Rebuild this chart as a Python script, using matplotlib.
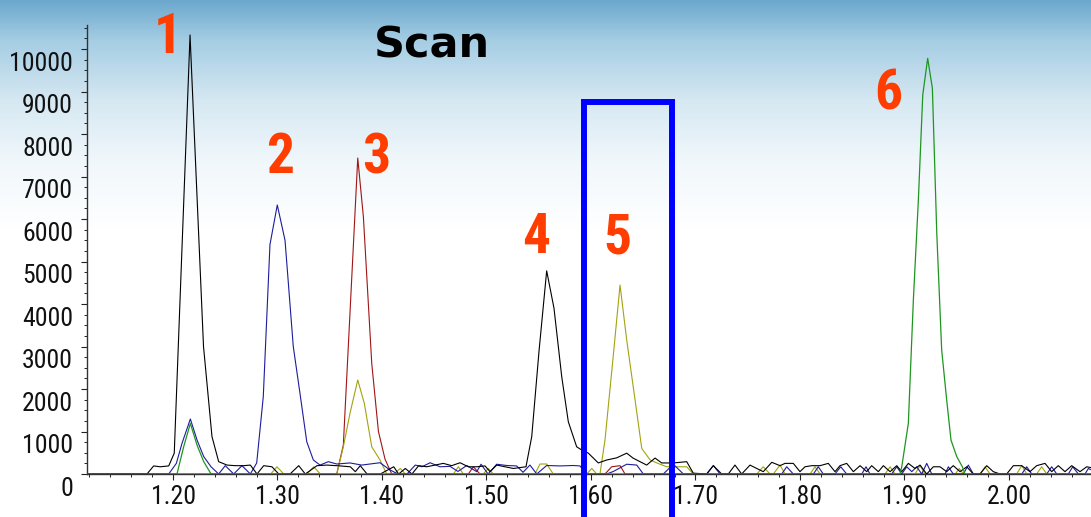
import numpy as np
import matplotlib
matplotlib.use("Agg")
import matplotlib.pyplot as plt
from matplotlib import font_manager
from matplotlib.font_manager import FontProperties
from matplotlib.transforms import ScaledTranslation
from matplotlib.ticker import MultipleLocator, FormatStrFormatter

# ---------------- chromatogram traces (retention time [min], intensity) ----------------
black_t = [1.1177, 1.1751, 1.1815, 1.1878, 1.1959, 1.2012, 1.2067, 1.2115, 1.2163, 1.2220,
           1.2292, 1.2373, 1.2437, 1.2517, 1.2596, 1.2677, 1.2740, 1.2804, 1.2868, 1.2947,
           1.3012, 1.3120, 1.3203, 1.3266, 1.3378, 1.3474, 1.3601, 1.3697, 1.3745, 1.3792,
           1.3857, 1.3984, 1.4112, 1.4160, 1.4223, 1.4287, 1.4351, 1.4428, 1.4507, 1.4587,
           1.4667, 1.4747, 1.4826, 1.4906, 1.4986, 1.5034, 1.5098, 1.5177, 1.5257, 1.5378,
           1.5433, 1.5503, 1.5576, 1.5646, 1.5720, 1.5783, 1.5863, 1.5911, 1.5975, 1.6070,
           1.6151, 1.6246, 1.6342, 1.6402, 1.6533, 1.6613, 1.6677, 1.6788, 1.6916, 1.6979,
           1.7107, 1.7171, 1.7251, 1.7314, 1.7378, 1.7442, 1.7522, 1.7586, 1.7649, 1.7730,
           1.7809, 1.7857, 1.7936, 1.8000, 1.8048, 1.8112, 1.8192, 1.8271, 1.8335, 1.8383,
           1.8447, 1.8511, 1.8575, 1.8639, 1.8686, 1.8750, 1.8798, 1.8862, 1.8926, 1.8974,
           1.9037, 1.9101, 1.9149, 1.9213, 1.9276, 1.9340, 1.9404, 1.9467, 1.9532, 1.9596,
           1.9659, 1.9723, 1.9787, 1.9850, 1.9914, 1.9978, 2.0042, 2.0122, 2.0201, 2.0265,
           2.0345, 2.0409, 2.0472, 2.0536, 2.0600, 2.0680, 2.0744, 2.0785]
black_i = [0, 0, 190, 170, 190, 490, 4060, 7200, 10330, 7070,
           3000, 880, 290, 210, 196, 196, 210, 0, 196, 170,
           0, 0, 196, 0, 196, 210, 190, 170, 55, 196,
           0, 0, 170, 0, 130, 0, 196, 170, 210, 250,
           196, 265, 170, 170, 190, 55, 210, 170, 130, 170,
           880, 2900, 4780, 3900, 2290, 1230, 640, 565, 490, 260,
           330, 380, 490, 375, 210, 375, 260, 260, 290, 20,
           0, 196, 0, 0, 210, 0, 210, 130, 55, 275,
           196, 250, 250, 55, 170, 196, 196, 250, 55, 196,
           250, 55, 196, 55, 196, 55, 196, 55, 196, 55,
           250, 130, 210, 0, 170, 170, 55, 196, 55, 170,
           0, 0, 196, 55, 0, 0, 196, 196, 55, 196,
           250, 55, 196, 55, 196, 55, 170, 150]

blue_t = [1.1177, 1.1959, 1.2032, 1.2086, 1.2166, 1.2230, 1.2294, 1.2364, 1.2437, 1.2500,
          1.2581, 1.2660, 1.2740, 1.2801, 1.2864, 1.2928, 1.2998, 1.3072, 1.3151, 1.3215,
          1.3280, 1.3343, 1.3407, 1.3486, 1.3567, 1.3694, 1.3806, 1.3885, 1.3981, 1.4077,
          1.4153, 1.4239, 1.4319, 1.4383, 1.4460, 1.4555, 1.4651, 1.4727, 1.4811, 1.4906,
          1.4948, 1.5015, 1.5098, 1.5194, 1.5289, 1.5350, 1.5416, 1.5481, 1.5576, 1.5704,
          1.5831, 1.5895, 1.5952, 1.6151, 1.6214, 1.6342, 1.6438, 1.6501, 1.6692, 1.6788,
          1.6884, 1.7107, 1.7171, 1.7235, 1.7825, 1.7873, 1.7936, 1.8128, 1.8175, 1.8223,
          1.8335, 1.8390, 1.8447, 1.8591, 1.8632, 1.8670, 1.8878, 1.8926, 1.8974, 1.9022,
          1.9070, 1.9117, 1.9165, 1.9213, 1.9261, 1.9389, 1.9420, 1.9467, 1.9563, 1.9611,
          1.9659, 2.0122, 2.0170, 2.0218, 2.0361, 2.0409, 2.0457, 2.0568, 2.0610, 2.0664,
          2.0728, 2.0760, 2.0785]
blue_i = [0, 0, 250, 720, 1294, 800, 410, 170, 0, 196,
          0, 196, 0, 260, 1820, 5400, 6330, 5500, 3000, 1900,
          760, 330, 210, 290, 235, 260, 210, 235, 265, 95,
          0, 0, 210, 170, 265, 170, 180, 60, 200, 55,
          230, 0, 230, 200, 190, 40, 210, 0, 200, 190,
          200, 190, 0, 0, 60, 230, 210, 0, 0, 230,
          0, 0, 200, 0, 0, 170, 0, 0, 170, 0,
          0, 170, 0, 0, 170, 0, 0, 170, 0, 170,
          55, 170, 0, 250, 0, 0, 170, 0, 0, 210,
          0, 0, 170, 0, 0, 170, 0, 0, 170, 0,
          0, 130, 100]

red_t = [1.1177, 1.3567, 1.3630, 1.3694, 1.3768, 1.3822, 1.3902, 1.3966, 1.4029, 1.4093,
         1.4826, 1.4874, 1.4938, 1.6134, 1.6198, 1.6278, 1.6326, 2.0785]
red_i = [0, 0, 680, 3800, 7435, 6050, 2600, 1000, 350, 0,
         0, 170, 0, 0, 170, 196, 0, 0]

olive_t = [1.1177, 1.2935, 1.2995, 1.3060, 1.3282, 1.3346, 1.3410, 1.3567, 1.3630, 1.3694,
           1.3768, 1.3831, 1.3902, 1.3981, 1.4045, 1.4112, 1.4175, 1.4223, 1.4683, 1.4731,
           1.4778, 1.4969, 1.5017, 1.5065, 1.5464, 1.5512, 1.5576, 1.5639, 1.5959, 1.6007,
           1.6055, 1.6086, 1.6134, 1.6206, 1.6278, 1.6342, 1.6422, 1.6486, 1.6566, 1.6630,
           1.6725, 1.6821, 1.6916, 1.6979, 1.7586, 1.7649, 1.7713, 1.7745, 1.7809, 1.7857,
           1.8096, 1.8144, 1.8192, 1.8814, 1.8862, 1.8910, 1.9101, 1.9149, 1.9197, 1.9486,
           1.9525, 1.9563, 1.9723, 1.9771, 1.9819, 2.0074, 2.0122, 2.0170, 2.0265, 2.0313,
           2.0361, 2.0785]
olive_i = [0, 0, 170, 0, 0, 170, 0, 0, 640, 1430,
           2212, 1660, 640, 330, 0, 0, 130, 0, 0, 170,
           0, 0, 130, 0, 0, 235, 235, 0, 0, 130,
           0, 0, 800, 2600, 4447, 3150, 1740, 600, 330, 260,
           170, 170, 170, 0, 0, 170, 0, 0, 210, 0,
           0, 170, 0, 0, 170, 0, 0, 196, 0, 0,
           130, 0, 0, 170, 0, 0, 196, 0, 0, 170,
           0, 0]

green_t = [1.1177, 1.2038, 1.2102, 1.2166, 1.2230, 1.2294, 1.2364, 1.8957, 1.8974, 1.9037,
           1.9085, 1.9133, 1.9175, 1.9222, 1.9267, 1.9309, 1.9356, 1.9404, 1.9445, 1.9500,
           1.9554, 1.9579, 2.0785]
green_i = [0, 0, 640, 1190, 680, 290, 0, 0, 170, 1190,
           4090, 6450, 8920, 9780, 9080, 5670, 2920, 1740, 800, 410,
           170, 0, 0]

# peak numbers: label, retention time, baseline height of the digit
peak_labels = ["1", "2", "3", "4", "5", "6"]
peak_label_t = [1.1952, 1.3024, 1.3943, 1.5474, 1.6249, 1.8843]
peak_label_y = [9906, 7082, 7082, 5200, 5200, 8565]

# highlighted retention window
window_t = (1.5933, 1.6780)
window_top = 8753

x_range = (1.1177, 2.0785)
y_range = (0, 10565)


# ---------------- fonts: prefer a narrow sans face ----------------
def _weight(f):
    w = f.weight
    if isinstance(w, str):
        return {"ultralight": 200, "light": 300, "normal": 400, "regular": 400, "book": 400,
                "medium": 500, "roman": 400, "semibold": 600, "demibold": 600, "demi": 600,
                "bold": 700, "heavy": 800, "extra bold": 800, "black": 900}.get(w.lower(), 400)
    return w


def _is_narrow(f):
    low = (f.fname + " " + f.name).lower()
    if "narrow" in low or "condensed" in low:
        return True
    s = f.stretch
    if isinstance(s, str):
        return "condensed" in s.lower()
    return s < 500


def narrow_face(target):
    prefs = ["liberation sans", "roboto", "open sans", "noto sans", "dejavu sans", "lato", "inter"]
    best = None
    for f in font_manager.fontManager.ttflist:
        low = f.fname.lower()
        if not _is_narrow(f) or f.style != "normal" or "mono" in low or "serif" in f.name.lower():
            continue
        if any(k in low for k in ("semi", "extra", "ultra", "medium", "light", "thin", "black")):
            continue
        if _weight(f) != target:
            continue
        rank = next((i for i, p in enumerate(prefs) if f.name.lower().startswith(p)), len(prefs))
        if best is None or rank < best[0]:
            best = (rank, f.fname)
    return best[1] if best else None


reg_path = narrow_face(400)
bold_path = narrow_face(700)
if reg_path:
    tick_fp = FontProperties(fname=reg_path, size=18.5)
else:
    tick_fp = FontProperties(family="Liberation Sans", size=17)
if bold_path:
    peak_fp = FontProperties(fname=bold_path, size=40)
else:
    peak_fp = FontProperties(family="Liberation Sans", weight="bold", size=34)

W, H = 1091, 517
fig = plt.figure(figsize=(W / 100, H / 100), dpi=100)

# sky-blue to white backdrop
bg = fig.add_axes([0, 0, 1, 1])
rows = np.arange(H)
stops = [0, 40, 100, 160, 230]
r = np.interp(rows, stops, [108, 165, 214, 240, 255])
g = np.interp(rows, stops, [168, 205, 232, 247, 255])
b = np.interp(rows, stops, [205, 228, 242, 251, 255])
grad = np.stack([r, g, b], axis=-1)[:, None, :] / 255.0
bg.imshow(grad, aspect="auto", extent=[0, 1, 0, 1], origin="upper")
bg.set_axis_off()
bg.set_zorder(-10)

ax = fig.add_axes([87 / W, 43 / H, (W - 87) / W, 449 / H])
ax.set_facecolor("none")

ax.plot(red_t, red_i, color="#a01414", lw=0.8, zorder=2)
ax.plot(olive_t, olive_i, color="#a3a30f", lw=0.8, zorder=2)
ax.plot(blue_t, blue_i, color="#1c1c9c", lw=0.8, zorder=2)
ax.plot(black_t, black_i, color="#000000", lw=0.8, zorder=3)
ax.plot(green_t, green_i, color="#1e961e", lw=0.9, zorder=4)

ax.set_xlim(*x_range)
ax.set_ylim(*y_range)

for s in ("top", "right"):
    ax.spines[s].set_visible(False)
for s in ("left", "bottom"):
    ax.spines[s].set_color("#333333")
    ax.spines[s].set_linewidth(1.0)

ax.xaxis.set_major_locator(MultipleLocator(0.1))
ax.xaxis.set_minor_locator(MultipleLocator(0.02))
ax.xaxis.set_major_formatter(FormatStrFormatter("%.2f"))
ax.set_yticks(np.arange(0, 10001, 1000))
ax.yaxis.set_minor_locator(MultipleLocator(250))
ax.yaxis.set_major_formatter(FormatStrFormatter("%d"))

ax.tick_params(axis="both", which="major", direction="out", length=4, width=0.8,
               color="#222222", labelcolor="#111111")
ax.tick_params(axis="both", which="minor", direction="out", length=2.5, width=0.7,
               color="#222222")
ax.tick_params(axis="y", which="major", pad=6)
ax.tick_params(axis="x", which="major", pad=4)
for lbl in ax.get_xticklabels() + ax.get_yticklabels():
    lbl.set_fontproperties(tick_fp)
# value labels sit slightly below their tick marks
for lbl in ax.get_yticklabels():
    lbl.set_transform(lbl.get_transform() + ScaledTranslation(0, -12 / 100, fig.dpi_scale_trans))

for txt, t, y in zip(peak_labels, peak_label_t, peak_label_y):
    ax.text(t, y, txt, color="#ff3d00", fontproperties=peak_fp,
            ha="center", va="baseline", zorder=6)

fig.text(432 / W, 1 - 57 / H, "Scan", fontsize=31, fontweight="bold",
         family="DejaVu Sans", ha="center", va="baseline", color="black")

ax.plot([window_t[0], window_t[0], window_t[1], window_t[1]],
        [-3000, window_top, window_top, -3000],
        color="#0000ff", lw=4.3, solid_joinstyle="miter", clip_on=False, zorder=7)

fig.savefig("out.png", dpi=100)
